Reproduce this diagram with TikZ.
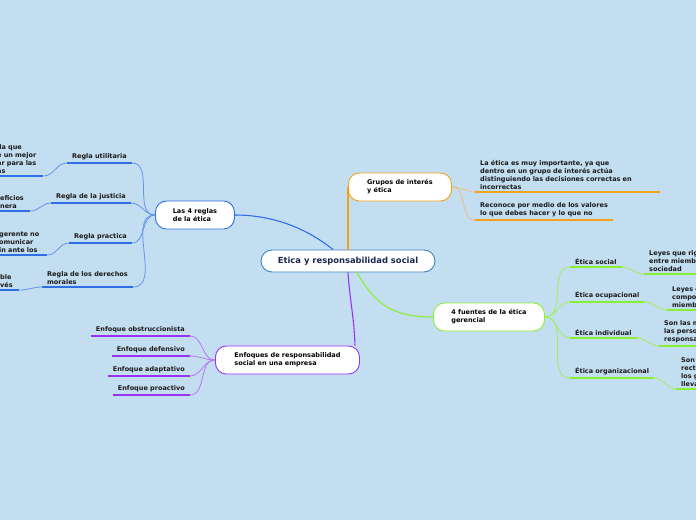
\documentclass[tikz,border=0pt]{standalone}
\usepackage{fontspec}
\setmainfont{DejaVu Sans}
\usepackage{xcolor}
\definecolor{bgblue}{RGB}{195,222,241}
\definecolor{mainblue}{RGB}{46,111,232}
\definecolor{twigblue}{RGB}{100,148,238}
\definecolor{mainorange}{RGB}{245,160,26}
\definecolor{twigorange}{RGB}{240,190,120}
\definecolor{maingreen}{RGB}{136,240,48}
\definecolor{twiggreen}{RGB}{160,238,90}
\definecolor{mainpurple}{RGB}{154,50,245}
\definecolor{twigpurple}{RGB}{182,120,242}
\definecolor{titleblue}{RGB}{60,132,196}
\definecolor{titletext}{RGB}{28,40,78}

\begin{document}
\begin{tikzpicture}[
        x=1pt, y=-1pt,
        font=\fontsize{6.5}{8}\selectfont\bfseries,
        topic/.style={draw=#1, fill=white, line width=0.9pt, rounded corners=11pt, align=left, inner xsep=16pt, minimum height=28pt, anchor=west},
        sub/.style={inner xsep=5pt, inner ysep=2.5pt, align=left, text=black!90},
        uline/.style={line width=1.6pt, draw=#1},
        twig/.style={line width=0.8pt, draw=#1},
        branch/.style={line width=1.1pt, draw=#1}
    ]
    \useasboundingbox (0,0) rectangle (696,520);
    \fill[bgblue] (0,0) rectangle (696,520);
    \clip (0,0) rectangle (696,520);

    \node[draw=titleblue, fill=white, line width=0.9pt, rounded corners=11pt, minimum width=174pt, minimum height=22pt, text=titletext, font=\fontsize{8.4}{10}\selectfont\bfseries] (root) at (348,261) {Etica y responsabilidad social};

    \node[topic=mainblue, minimum width=79pt] (reglas) at (155,215) {Las 4 reglas\\de la ética};
    \node[topic=mainorange, minimum width=103pt] (grupos) at (348,187) {Grupos de interés\\y ética};
    \node[topic=maingreen, minimum width=111pt] (fuentes) at (433,317) {4 fuentes de la ética\\gerencial};
    \node[topic=mainpurple, minimum width=144pt] (enfoques) at (215,360) {Enfoques de responsabilidad\\social en una empresa};

    \draw[branch=mainblue] (reglas.east) .. controls +(50,0) and +(-15,-12) .. ([xshift=-15pt]root.north);
    \draw[branch=mainorange] (root.north) -- (grupos.west);
    \draw[branch=maingreen] ([xshift=9pt]root.south) .. controls +(18,32) and +(-40,0) .. (fuentes.west);
    \draw[branch=mainpurple] (root.south) .. controls +(2,30) and +(-1,-30) .. ([xshift=140pt]enfoques.north west);

    \node[sub, anchor=south east] (rutil) at (132,163) {Regla utilitaria};
    \node[sub, anchor=south east] (rjust) at (131,203) {Regla de la justicia};
    \node[sub, anchor=south east] (rprac) at (132,243) {Regla practica};
    \node[sub, anchor=south east] (rmor) at (133,287) {Regla de los derechos\\morales};
    \foreach \n in {rutil,rjust,rprac,rmor} {
        \draw[uline=mainblue] (\n.south west) -- (\n.south east);
        \draw[twig=twigblue] (\n.south east) to[out=0,in=180] (reglas.west);
    }

    \node[sub, anchor=south west, text width=41pt] (futil) at (-8,176) {lla que\\e un mejor\\ar para las\\as};
    \node[sub, anchor=south west, text width=25pt] (fjust) at (-5,211) {eficios\\nera};
    \node[sub, anchor=south west, text width=43pt] (fprac) at (-6,255) {gerente no\\omunicar\\in ante los};
    \node[sub, anchor=south west, text width=14pt] (fmor) at (-5,290) {ble\\vés};
    \draw[uline=mainblue] (futil.south west) -- (futil.south east);
    \draw[uline=mainblue] (fjust.south west) -- (fjust.south east);
    \draw[uline=mainblue] (fprac.south west) -- (fprac.south east);
    \draw[uline=mainblue] (fmor.south west) -- (fmor.south east);
    \draw[twig=twigblue] (futil.south east) to[out=0,in=180] (rutil.south west);
    \draw[twig=twigblue] (fjust.south east) to[out=0,in=180] (rjust.south west);
    \draw[twig=twigblue] (fprac.south east) to[out=0,in=180] (rprac.south west);
    \draw[twig=twigblue] (fmor.south east) to[out=0,in=180] (rmor.south west);

    \node[sub, anchor=south west, text width=175pt] (gimp) at (475,192) {La ética es muy importante, ya que\\dentro en un grupo de interés actúa\\distinguiendo las decisiones correctas en\\incorrectas};
    \node[sub, anchor=south west] (grec) at (475,220) {Reconoce por medio de los valores\\lo que debes hacer y lo que no};
    \foreach \n in {gimp,grec} {
        \draw[uline=mainorange] (\n.south west) -- (\n.south east);
        \draw[twig=twigorange] (grupos.east) to[out=0,in=180] (\n.south west);
    }

    \node[sub, anchor=south west] (esoc) at (570,267) {Ética social};
    \node[sub, anchor=south west] (eocu) at (570,302) {Ética ocupacional};
    \node[sub, anchor=south west] (eind) at (570,338) {Ética individual};
    \node[sub, anchor=south west] (eorg) at (570,378) {Ética organizacional};
    \node[sub, anchor=south west, text width=60pt] (lsoc) at (644,274) {Leyes que rig\\entre miemb\\sociedad};
    \node[sub, anchor=south west, text width=40pt] (locu) at (667,310) {Leyes d\\compo\\miemb};
    \node[sub, anchor=south west, text width=45pt] (lind) at (659,346) {Son las m\\las perso\\responsa};
    \node[sub, anchor=south west, text width=30pt] (lorg) at (676,389) {Son\\rect\\los g\\lleva};
    \foreach \n/\m in {esoc/lsoc,eocu/locu,eind/lind,eorg/lorg} {
        \draw[uline=maingreen] (\n.south west) -- (\n.south east);
        \draw[uline=maingreen] (\m.south west) -- (\m.south east);
        \draw[twig=twiggreen] (fuentes.east) to[out=0,in=180] (\n.south west);
        \draw[twig=twiggreen] (\n.south east) to[out=0,in=180] (\m.south west);
    }

    \node[sub, anchor=south east] (eobs) at (190,336) {Enfoque obstruccionista};
    \node[sub, anchor=south east] (edef) at (190,356) {Enfoque defensivo};
    \node[sub, anchor=south east] (eada) at (190,376) {Enfoque adaptativo};
    \node[sub, anchor=south east] (epro) at (190,395) {Enfoque proactivo};
    \foreach \n in {eobs,edef,eada,epro} {
        \draw[uline=mainpurple] (\n.south west) -- (\n.south east);
        \draw[twig=twigpurple] (\n.south east) to[out=0,in=180] (enfoques.west);
    }
\end{tikzpicture}
\end{document}
